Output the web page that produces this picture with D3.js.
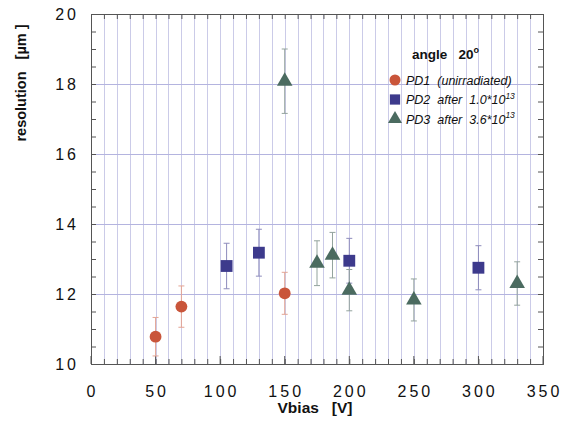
<!DOCTYPE html>
<html><head><meta charset="utf-8">
<script src="https://cdn.jsdelivr.net/npm/d3@7"></script>
<style>body{margin:0;background:#fff}svg{display:block}text{font-family:Arial,"Liberation Sans",sans-serif}</style>
</head><body><svg id="c" width="565" height="429"></svg>
<script>
// Data
const pd1V = [50, 70, 150];
const pd1R = [10.78, 11.64, 12.02];
const pd1E = [0.55, 0.59, 0.60];
const pd2V = [105, 130, 200, 300];
const pd2R = [12.80, 13.18, 12.95, 12.75];
const pd2E = [0.65, 0.67, 0.64, 0.63];
const pd3V = [150, 175, 187, 200, 250, 330];
const pd3R = [18.08, 12.88, 13.11, 12.11, 11.83, 12.30];
const pd3E = [0.92, 0.64, 0.65, 0.59, 0.60, 0.62];
const xTicks = [0, 50, 100, 150, 200, 250, 300, 350];
const yTicks = [10, 12, 14, 16, 18, 20];
const legendLabels = ["PD1  (unirradiated)", "PD2  after  1.0*10", "PD3  after  3.6*10"];
const legendSup = ["", "13", "13"];

const svg = d3.select("#c");
const L = 91, R = 543, T = 14, B = 364;
const x = d3.scaleLinear().domain([0, 350]).range([L, R]);
const y = d3.scaleLinear().domain([10, 20]).range([B, T]);

// grid
const g = svg.append("g");
g.selectAll("line.vg").data(d3.range(10, 350, 10)).join("line")
  .attr("x1", d => Math.round(x(d)) + 0.5).attr("x2", d => Math.round(x(d)) + 0.5)
  .attr("y1", T).attr("y2", B).attr("stroke", "#cbcbe8").attr("stroke-width", 1);
g.selectAll("line.hg").data([12, 14, 16, 18]).join("line")
  .attr("x1", L).attr("x2", R)
  .attr("y1", d => Math.round(y(d)) + 0.5).attr("y2", d => Math.round(y(d)) + 0.5)
  .attr("stroke", "#b4b4df").attr("stroke-width", 1);

// axes (ticks inward)
const frame = "#555";
const xAxB = d3.axisBottom(x).tickValues(d3.range(0, 351, 10)).tickSize(-5).tickFormat("");
const xAxT = d3.axisTop(x).tickValues(d3.range(0, 351, 10)).tickSize(-5).tickFormat("");
const yAxL = d3.axisLeft(y).tickValues(d3.range(10, 20.01, 0.5)).tickSize(-5).tickFormat("");
const yAxR = d3.axisRight(y).tickValues(d3.range(10, 20.01, 0.5)).tickSize(-5).tickFormat("");
[[xAxB, `translate(0,${B})`], [xAxT, `translate(0,${T})`], [yAxL, `translate(${L},0)`], [yAxR, `translate(${R},0)`]].forEach(([ax, tr]) => {
  const a = svg.append("g").attr("transform", tr).call(ax);
  a.select(".domain").attr("stroke", frame);
  a.selectAll(".tick line").attr("stroke", frame);
});
svg.append("g").selectAll("line").data(xTicks).join("line")
  .attr("x1", d => x(d)).attr("x2", d => x(d)).attr("y1", B).attr("y2", B - 8).attr("stroke", frame);

// tick labels
const sp = 3;
svg.append("g").selectAll("text").data(xTicks).join("text")
  .attr("x", d => x(d) + sp / 2).attr("y", 396.5).attr("text-anchor", "middle")
  .attr("font-size", 16).attr("letter-spacing", sp).attr("fill", "#111").text(d => d);
svg.append("g").selectAll("text").data(yTicks).join("text")
  .attr("x", 76 + sp).attr("y", d => y(d)).attr("dy", "0.36em").attr("text-anchor", "end")
  .attr("font-size", 16).attr("letter-spacing", sp).attr("fill", "#111").text(d => d);

// axis titles
svg.append("text").attr("x", 315).attr("y", 412.5).attr("text-anchor", "middle")
  .attr("font-size", 15.5).attr("font-weight", "bold").attr("fill", "#111")
  .attr("xml:space", "preserve").text("Vbias   [V]");
svg.append("text").attr("transform", "translate(26,83) rotate(-90)").attr("text-anchor", "middle")
  .attr("font-size", 14.5).attr("font-weight", "bold").attr("fill", "#111")
  .attr("xml:space", "preserve").text("resolution   [\u00b5m ]");

// series
const series = [
  {v: pd1V, r: pd1R, e: pd1E, sym: d3.symbolCircle, size: 110, lsize: 95, fill: "#c9553a", err: "#e3a494"},
  {v: pd2V, r: pd2R, e: pd2E, sym: d3.symbolSquare, size: 140, lsize: 105, fill: "#3d3a8c", err: "#8e8cbc"},
  {v: pd3V, r: pd3R, e: pd3E, sym: d3.symbolTriangle, size: 105, lsize: 85, fill: "#4b6b60", err: "#93a39d"}
];
series.forEach(s => {
  const data = s.v.map((v, i) => ({v, r: s.r[i], e: s.e[i]}));
  const eg = svg.append("g").attr("stroke", s.err).attr("stroke-width", 1);
  data.forEach(d => {
    const cx = x(d.v), y1 = y(d.r + d.e), y2 = y(d.r - d.e);
    eg.append("line").attr("x1", cx).attr("x2", cx).attr("y1", y1).attr("y2", y2);
    eg.append("line").attr("x1", cx - 3).attr("x2", cx + 3).attr("y1", y1).attr("y2", y1);
    eg.append("line").attr("x1", cx - 3).attr("x2", cx + 3).attr("y1", y2).attr("y2", y2);
  });
});
series.forEach(s => {
  const data = s.v.map((v, i) => ({v, r: s.r[i]}));
  svg.append("g").selectAll("path").data(data).join("path")
    .attr("transform", d => `translate(${x(d.v)},${y(d.r)})`)
    .attr("d", d3.symbol(s.sym, s.size)).attr("fill", s.fill);
});

// legend
svg.append("text").attr("x", 412).attr("y", 58.5).attr("font-size", 13.5).attr("font-weight", "bold")
  .attr("fill", "#111").attr("xml:space", "preserve").text("angle   20")
  .append("tspan").attr("dy", -6).attr("font-size", 9).text("o");
const ly = [80, 99.5, 119];
series.forEach((s, i) => {
  svg.append("path").attr("transform", `translate(395,${ly[i]})`)
    .attr("d", d3.symbol(s.sym, s.lsize)).attr("fill", s.fill);
  const t = svg.append("text").attr("x", 406).attr("y", ly[i] + 4.5).attr("font-size", 12.5)
    .attr("font-style", "italic").attr("fill", "#111").attr("xml:space", "preserve").text(legendLabels[i]);
  if (legendSup[i]) t.append("tspan").attr("dy", -5.5).attr("font-size", 8.5).text(legendSup[i]);
});
</script></body></html>
